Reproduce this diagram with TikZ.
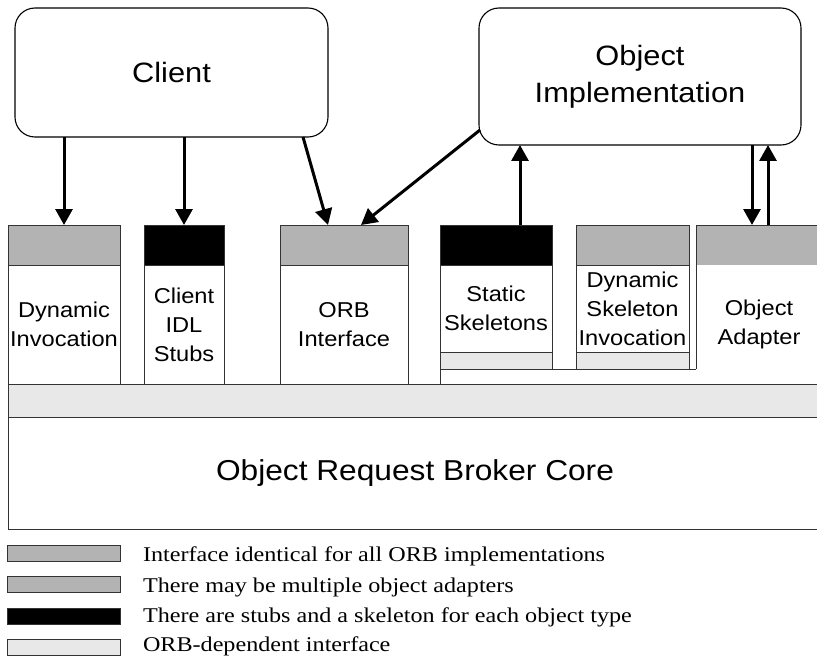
\documentclass[tikz,border=0pt]{standalone}
\usepackage{fontspec}
\setmainfont{Liberation Sans}
\newfontfamily\labelfont[FakeStretch=1.1]{Liberation Sans}
\newfontfamily\legendfont[FakeStretch=1.15]{Liberation Serif}
\usetikzlibrary{arrows.meta,calc}
\definecolor{ifgray}{RGB}{179,179,179}
\definecolor{bandgray}{RGB}{232,232,232}
\definecolor{edge}{RGB}{51,51,51}

\begin{document}
\begin{tikzpicture}[x=1pt,y=-1pt,
  every node/.style={inner sep=0pt, outer sep=0pt},
  frame/.style={draw=edge, line width=1pt},
  party/.style={draw=black, line width=1.1pt, rounded corners=20pt, fill=white,
    align=center, anchor=north west, font=\labelfont\fontsize{28}{37}\selectfont},
  hdr/.style={frame, anchor=north west, minimum height=40pt},
  body/.style={frame, fill=white, anchor=north west, align=center,
    font=\labelfont\fontsize{21.5}{29}\selectfont},
  thinband/.style={frame, fill=bandgray, anchor=north west, minimum height=17pt},
  arr/.style={line width=3pt, -{Triangle[length=16pt,width=17pt]}},
  swatch/.style={draw=edge, line width=0.8pt, anchor=north west,
    minimum width=113pt, minimum height=16pt},
  legend/.style={anchor=base west, font=\legendfont\fontsize{21}{25}\selectfont}
]
\path[use as bounding box] (0,0) rectangle (817,658);
\clip (0,0) rectangle (817,658);

% ORB core and the ORB-dependent band on top of it
\node[frame, fill=bandgray, anchor=north west, minimum width=814pt,
  minimum height=33pt] (band) at (8,384) {};
\node[frame, fill=white, anchor=north west, minimum width=814pt, minimum height=112pt,
  font=\labelfont\fontsize{28.8}{34}\selectfont] (core) at (8,417) {Object Request Broker Core};

% client and object implementation
\node[party, minimum width=313pt, minimum height=129pt] (client) at (15,8) {Client};
\node[party, minimum width=322pt, minimum height=137pt] (impl) at (479,8) {Object\\Implementation};

% interface headers
\node[hdr, fill=ifgray, minimum width=112pt] (di)   at (8,225)   {};
\node[hdr, fill=black,  minimum width=80pt]  (cis)  at (144,225) {};
\node[hdr, fill=ifgray, minimum width=128pt] (orbi) at (280,225) {};
\node[hdr, fill=black,  minimum width=112pt] (ss)   at (440,225) {};
\node[hdr, fill=ifgray, minimum width=113pt] (dsi)  at (576,225) {};
\node[hdr, fill=ifgray, minimum width=126pt] (oa)   at (696,225) {};

% component bodies
\node[body, minimum width=112pt, minimum height=119pt] (dib)   at (8,265)   {Dynamic\\Invocation};
\node[body, minimum width=80pt,  minimum height=119pt] (cisb)  at (144,265) {Client\\IDL\\Stubs};
\node[body, minimum width=128pt, minimum height=119pt] (orbib) at (280,265) {ORB\\Interface};
\node[body, minimum width=112pt, minimum height=87pt]  (ssb)   at (440,265) {Static\\Skeletons};
\node[body, minimum width=113pt, minimum height=87pt]  (dsib)  at (576,265) {Dynamic\\Skeleton\\Invocation};
\node[body, draw=none, minimum width=126pt, minimum height=119pt] (oab) at (696,265) {Object\\Adapter};
\node[thinband, minimum width=112pt] (ssl)  at (440,352) {};
\node[thinband, minimum width=113pt] (dsil) at (576,352) {};

% skeleton frame and adapter edge
\draw[frame] (ssl.south west) -- (ssl.south west |- band.north);
\draw[frame] (ssl.south east) -- (ssl.south east -| oab.west);
\draw[frame] (oab.north west) -- (oab.north west |- ssl.south);

% calls
\coordinate (cright) at ($(client.south east)+(-25,0)$);
\coordinate (orbiL)  at ($(orbi.north west)+(48,0)$);
\coordinate (orbiR)  at ($(orbi.north west)+(81,0)$);
\coordinate (implL)  at ($(impl.south west)+(1,-15)$);
\coordinate (ssup)   at ($(ss.north west)+(80,0)$);
\coordinate (oadown) at ($(oa.north west)+(56,0)$);
\coordinate (oaup)   at ($(oa.north west)+(72,0)$);

\draw[arr] (client.south -| di.north) -- (di.north);
\draw[arr] (client.south -| cis.north) -- (cis.north);
\draw[arr] (cright) -- (orbiL);
\draw[arr] (implL) -- (orbiR);
\draw[arr] (ssup) -- (ssup |- impl.south);
\draw[arr] (oadown |- impl.south) -- (oadown);
\draw[arr] (oaup) -- (oaup |- impl.south);

% legend
\node[swatch, fill=ifgray]   (k1) at (7,545) {};
\node[swatch, fill=ifgray]   (k2) at (7,576) {};
\node[swatch, fill=black]    (k3) at (7,608) {};
\node[swatch, fill=bandgray] (k4) at (7,639) {};
\node[legend] (t1) at (143,561) {Interface identical for all ORB implementations};
\node[legend] (t2) at (143,592) {There may be multiple object adapters};
\node[legend] (t3) at (143,622) {There are stubs and a skeleton for each object type};
\node[legend] (t4) at (143,651) {ORB-dependent interface};
\end{tikzpicture}
\end{document}
